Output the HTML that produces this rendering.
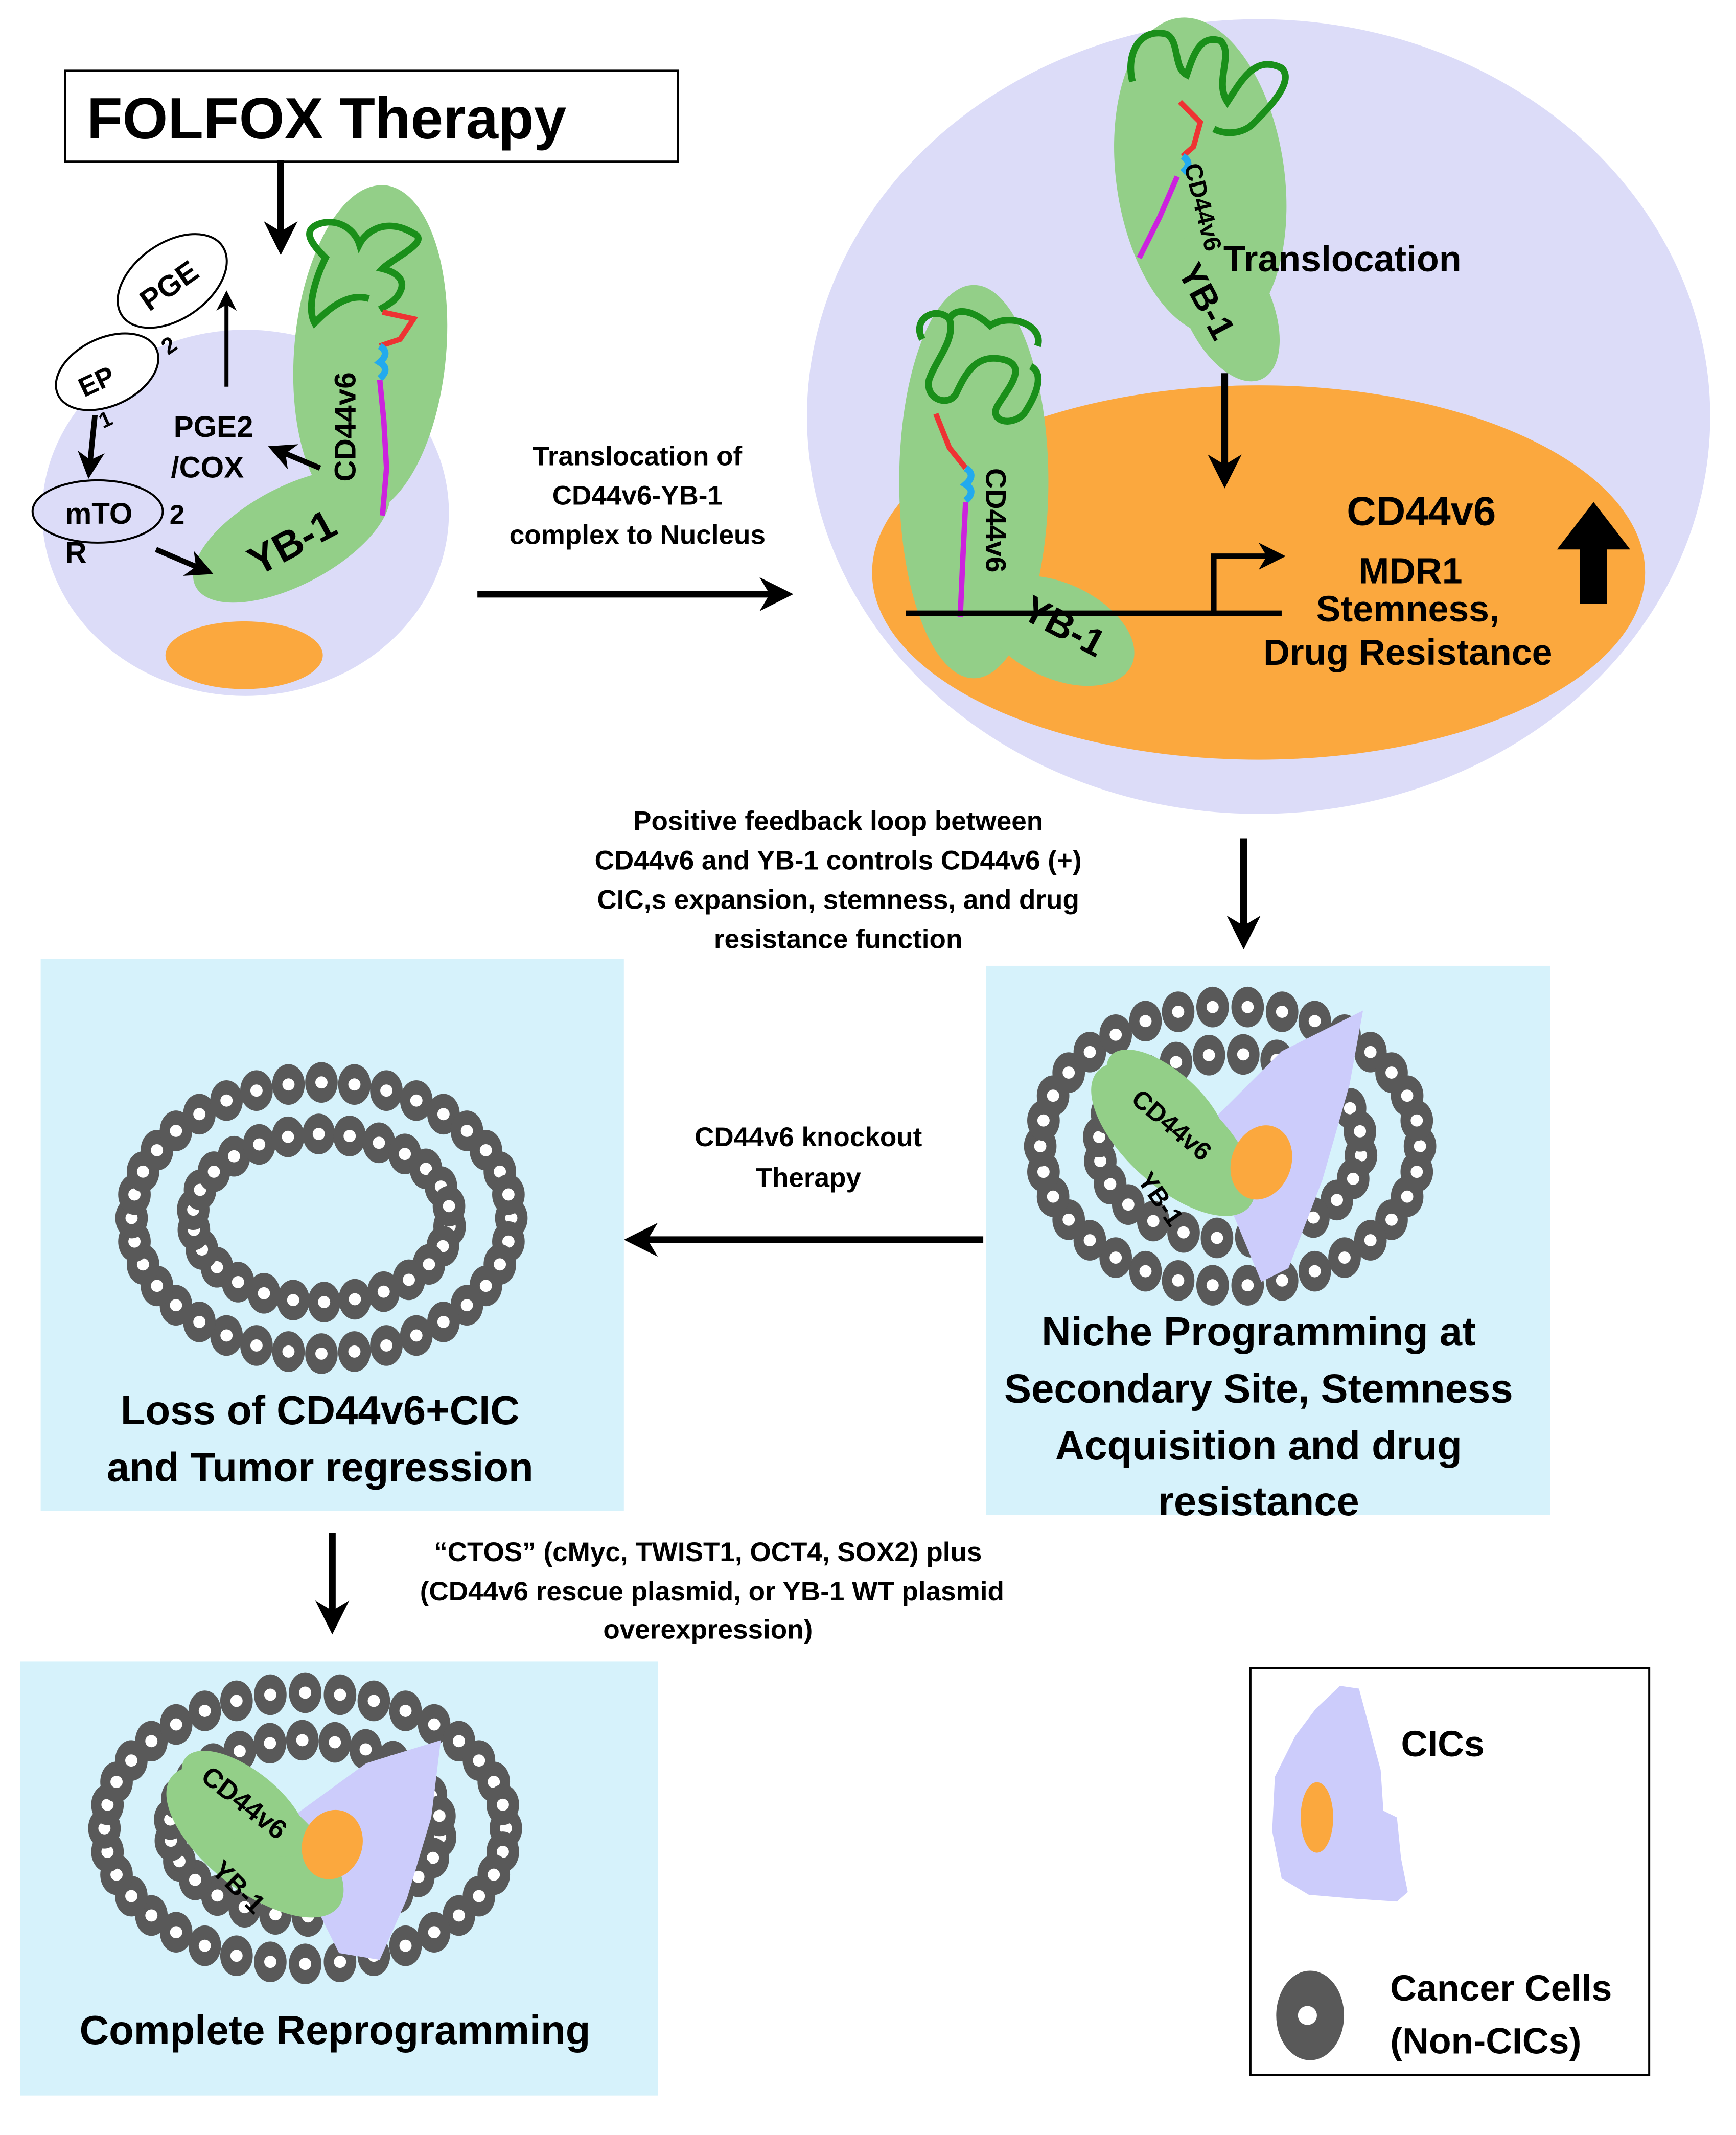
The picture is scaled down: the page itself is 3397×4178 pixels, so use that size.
<!DOCTYPE html>
<html><head><meta charset="utf-8">
<style>
html,body{margin:0;padding:0;background:#fff;}
svg{display:block;}
text{font-family:"Liberation Sans",Arial,sans-serif;font-weight:bold;fill:#000;}
</style></head>
<body>
<svg id="s" width="3397" height="4178" viewBox="0 0 1280 1574" xmlns="http://www.w3.org/2000/svg">
<defs>
<marker id="ah" viewBox="0 0 10 10" refX="6" refY="5" markerWidth="5" markerHeight="5" orient="auto"><path d="M0,0 L10,5 L0,10 L3,5 z" fill="#000"/></marker>
</defs>
<rect width="1280" height="1574" fill="#fff"/>

<!-- FOLFOX -->
<rect x="48" y="52" width="452" height="67" fill="#fff" stroke="#000" stroke-width="1.5"/>
<text x="64" y="102" font-size="43">FOLFOX Therapy</text>
<line x1="207" y1="118" x2="207" y2="178" stroke="#000" stroke-width="5" marker-end="url(#ah)"/>

<!-- left cell -->
<ellipse cx="181" cy="378" rx="150" ry="135" fill="#dcdcf8"/>
<ellipse cx="180" cy="483" rx="58" ry="25" fill="#fba83e"/>
<ellipse cx="273" cy="258" rx="56" ry="122" fill="#93cf88" transform="rotate(5 273 258)"/>
<ellipse cx="215" cy="395" rx="80" ry="36" fill="#93cf88" transform="rotate(-28 215 395)"/>
<path d="M272,220 C255,215 240,230 232,238 C225,225 235,200 240,190 C230,180 222,170 235,165 C250,160 262,170 265,180 C270,170 285,160 305,172 C318,178 290,190 282,198 C290,200 300,205 295,215 C292,222 285,225 280,228" fill="none" stroke="#1a8f1a" stroke-width="5"/>
<path d="M282,230 L305,235 L295,250 L280,255" fill="none" stroke="#e33" stroke-width="4"/>
<path d="M280,255 q8,5 0,12 q8,5 0,12" fill="none" stroke="#22aaee" stroke-width="5"/>
<path d="M280,280 L283,310 L285,345 L282,380" fill="none" stroke="#cc22dd" stroke-width="4"/>
<text transform="translate(262,355) rotate(-90)" font-size="22">CD44v6</text>
<text transform="translate(190,425) rotate(-28)" font-size="30">YB-1</text>
<!-- small ellipses -->
<ellipse cx="127" cy="207" rx="45" ry="28" fill="#fff" stroke="#000" stroke-width="1.5" transform="rotate(-35 127 207)"/>
<text transform="translate(110,230) rotate(-35)" font-size="22">PGE</text>
<text transform="translate(124,262) rotate(-35)" font-size="17">2</text>
<ellipse cx="79" cy="274" rx="40" ry="25" fill="#fff" stroke="#000" stroke-width="1.5" transform="rotate(-25 79 274)"/>
<text transform="translate(62,293) rotate(-25)" font-size="20">EP</text>
<text transform="translate(76,316) rotate(-25)" font-size="16">1</text>
<ellipse cx="72" cy="377" rx="48" ry="23" fill="#dcdcf8" stroke="#000" stroke-width="1.5"/>
<text x="48" y="386" font-size="22">mTO</text>
<text x="125" y="386" font-size="20">2</text>
<text x="48" y="415" font-size="22">R</text>
<line x1="70" y1="306" x2="66" y2="345" stroke="#000" stroke-width="4" marker-end="url(#ah)"/>
<line x1="115" y1="405" x2="150" y2="420" stroke="#000" stroke-width="4" marker-end="url(#ah)"/>
<line x1="167" y1="285" x2="167" y2="220" stroke="#000" stroke-width="3" marker-end="url(#ah)"/>
<line x1="236" y1="345" x2="205" y2="332" stroke="#000" stroke-width="4" marker-end="url(#ah)"/>
<text x="128" y="322" font-size="22">PGE2</text>
<text x="126" y="352" font-size="22">/COX</text>

<!-- middle arrow -->
<text x="470" y="343" font-size="20" text-anchor="middle">Translocation of</text>
<text x="470" y="372" font-size="20" text-anchor="middle">CD44v6-YB-1</text>
<text x="470" y="401" font-size="20" text-anchor="middle">complex to Nucleus</text>
<line x1="352" y1="438" x2="575" y2="438" stroke="#000" stroke-width="5" marker-end="url(#ah)"/>

<!-- right cell -->
<ellipse cx="928" cy="307" rx="333" ry="293" fill="#dcdcf8"/>
<ellipse cx="928" cy="422" rx="285" ry="138" fill="#fba83e"/>
<ellipse cx="885" cy="130" rx="62" ry="118" fill="#93cf88" transform="rotate(-8 885 130)"/>
<ellipse cx="905" cy="225" rx="32" ry="60" fill="#93cf88" transform="rotate(-25 905 225)"/>
<path d="M835,60 C830,40 840,20 860,25 C870,30 865,50 875,55 C880,40 885,25 900,30 C910,40 895,60 905,75 C915,60 925,40 945,50 C955,60 935,80 925,90 C918,98 905,100 895,95" fill="none" stroke="#1a8f1a" stroke-width="5"/>
<path d="M870,75 L885,90 L880,108 L872,115" fill="none" stroke="#e33" stroke-width="4"/>
<path d="M872,115 q8,5 0,12" fill="none" stroke="#22aaee" stroke-width="5"/>
<path d="M868,130 L855,160 L840,190" fill="none" stroke="#cc22dd" stroke-width="4"/>
<text transform="translate(873,122) rotate(76)" font-size="18">CD44v6</text>
<text transform="translate(868,200) rotate(62)" font-size="26">YB-1</text>
<text x="902" y="200" font-size="27">Translocation</text>
<line x1="903" y1="275" x2="903" y2="350" stroke="#000" stroke-width="5" marker-end="url(#ah)"/>

<ellipse cx="718" cy="355" rx="55" ry="145" fill="#93cf88"/>
<ellipse cx="780" cy="465" rx="60" ry="35" fill="#93cf88" transform="rotate(25 780 465)"/>
<path d="M680,250 C672,235 690,225 700,235 C705,250 690,265 685,280 C682,295 700,300 705,290 C712,275 720,260 740,265 C760,270 740,290 735,300 C730,310 745,315 755,305 C765,290 770,275 760,270 M700,235 C705,225 720,230 730,240 C745,230 770,240 765,255" fill="none" stroke="#1a8f1a" stroke-width="5"/>
<path d="M690,305 L700,330 L712,345" fill="none" stroke="#e33" stroke-width="4"/>
<path d="M712,345 q8,5 0,12 q8,5 0,12" fill="none" stroke="#22aaee" stroke-width="5"/>
<path d="M712,370 L710,410 L708,455" fill="none" stroke="#cc22dd" stroke-width="4"/>
<text transform="translate(727,345) rotate(90)" font-size="21">CD44v6</text>
<text transform="translate(752,455) rotate(28)" font-size="28">YB-1</text>
<line x1="668" y1="452" x2="945" y2="452" stroke="#000" stroke-width="4"/>
<path d="M895,452 L895,410 L940,410" fill="none" stroke="#000" stroke-width="4" marker-end="url(#ah)"/>
<text x="1048" y="387" font-size="30" text-anchor="middle">CD44v6</text>
<text x="1040" y="430" font-size="27" text-anchor="middle">MDR1</text>
<text x="1038" y="458" font-size="27" text-anchor="middle">Stemness,</text>
<text x="1038" y="490" font-size="27" text-anchor="middle">Drug Resistance</text>
<rect x="1165" y="400" width="20" height="45" fill="#000"/>
<polygon points="1148,405 1202,405 1175,370" fill="#000"/>

<!-- feedback text -->
<text x="618" y="612" font-size="20" text-anchor="middle">Positive feedback loop between</text>
<text x="618" y="641" font-size="20" text-anchor="middle">CD44v6 and YB-1 controls CD44v6 (+)</text>
<text x="618" y="670" font-size="20" text-anchor="middle">CIC,s expansion,  stemness, and drug</text>
<text x="618" y="699" font-size="20" text-anchor="middle">resistance function</text>
<line x1="917" y1="618" x2="917" y2="690" stroke="#000" stroke-width="5" marker-end="url(#ah)"/>

<!-- panels -->
<rect x="30" y="707" width="430" height="407" fill="#d6f2fb"/>
<rect x="727" y="712" width="416" height="405" fill="#d6f2fb"/>
<rect x="15" y="1225" width="470" height="320" fill="#d6f2fb"/>
<g id="r1"></g><g id="r2"></g><g id="r3"></g>

<!-- panel2 overlay -->
<polygon points="1005,745 995,800 975,870 950,935 930,945 905,885 890,830 945,775" fill="#ccccfb"/>
<ellipse cx="865" cy="840" rx="75" ry="35" fill="#93cf88" transform="rotate(42 865 840)"/>
<ellipse cx="860" cy="815" rx="55" ry="25" fill="#93cf88" transform="rotate(42 860 815)"/>
<ellipse cx="930" cy="857" rx="22" ry="28" fill="#fba83e" transform="rotate(20 930 857)"/>
<text transform="translate(833,812) rotate(40)" font-size="19">CD44v6</text>
<text transform="translate(838,870) rotate(55)" font-size="19">YB-1</text>
<text x="928" y="992" font-size="30" text-anchor="middle">Niche Programming at</text>
<text x="928" y="1034" font-size="30" text-anchor="middle">Secondary Site, Stemness</text>
<text x="928" y="1076" font-size="30" text-anchor="middle">Acquisition and drug</text>
<text x="928" y="1117" font-size="30" text-anchor="middle">resistance</text>

<text x="236" y="1050" font-size="30" text-anchor="middle">Loss of CD44v6+CIC</text>
<text x="236" y="1092" font-size="30" text-anchor="middle">and Tumor regression</text>

<text x="596" y="845" font-size="20" text-anchor="middle">CD44v6 knockout</text>
<text x="596" y="875" font-size="20" text-anchor="middle">Therapy</text>
<line x1="725" y1="914" x2="470" y2="914" stroke="#000" stroke-width="5" marker-end="url(#ah)"/>

<line x1="245" y1="1130" x2="245" y2="1195" stroke="#000" stroke-width="5" marker-end="url(#ah)"/>
<text x="522" y="1151" font-size="20" text-anchor="middle">“CTOS” (cMyc, TWIST1, OCT4, SOX2)  plus</text>
<text x="525" y="1180" font-size="20" text-anchor="middle">(CD44v6 rescue plasmid, or YB-1 WT plasmid</text>
<text x="522" y="1208" font-size="20" text-anchor="middle">overexpression)</text>

<!-- panel3 overlay -->
<polygon points="325,1283 318,1340 300,1400 280,1445 250,1440 225,1390 215,1340 270,1300" fill="#ccccfb"/>
<ellipse cx="188" cy="1358" rx="78" ry="36" fill="#93cf88" transform="rotate(38 188 1358)"/>
<ellipse cx="180" cy="1330" rx="55" ry="25" fill="#93cf88" transform="rotate(38 180 1330)"/>
<ellipse cx="245" cy="1360" rx="22" ry="26" fill="#fba83e" transform="rotate(20 245 1360)"/>
<text transform="translate(147,1312) rotate(38)" font-size="20">CD44v6</text>
<text transform="translate(155,1380) rotate(45)" font-size="20">YB-1</text>
<text x="247" y="1507" font-size="30" text-anchor="middle">Complete Reprogramming</text>

<!-- legend -->
<rect x="922" y="1230" width="294" height="300" fill="#fff" stroke="#000" stroke-width="1.5"/>
<path d="M988,1243 L1002,1245 L1010,1275 L1018,1305 L1020,1335 L1030,1340 L1033,1370 L1038,1395 L1030,1402 L1000,1400 L965,1397 L945,1385 L938,1350 L940,1310 L955,1280 L970,1260 Z" fill="#ccccfb"/>
<ellipse cx="971" cy="1340" rx="12" ry="26" fill="#fba83e"/>
<text x="1033" y="1295" font-size="27">CICs</text>
<ellipse cx="966" cy="1486" rx="25" ry="33" fill="#595959"/>
<circle cx="964" cy="1486" r="7" fill="#fff"/>
<text x="1025" y="1475" font-size="27">Cancer Cells</text>
<text x="1025" y="1514" font-size="27">(Non-CICs)</text>
</svg>
<script>
(function(){
var NS="http://www.w3.org/2000/svg";
function ring(id,cx,cy,rx,ry,n,rot){
 var g=document.getElementById(id);
 for(var i=0;i<n;i++){
  var a=(i/n)*Math.PI*2+(rot||0);
  var x=cx+rx*Math.cos(a), y=cy+ry*Math.sin(a);
  var e=document.createElementNS(NS,"ellipse");
  e.setAttribute("cx",x);e.setAttribute("cy",y);e.setAttribute("rx",12);e.setAttribute("ry",15);
  e.setAttribute("fill","#595959");g.appendChild(e);
  var c=document.createElementNS(NS,"circle");
  c.setAttribute("cx",x);c.setAttribute("cy",y);c.setAttribute("r",4.5);c.setAttribute("fill","#fff");g.appendChild(c);
 }
}
ring("r1",237,898,140,100,36,0);ring("r1",237,898,95,62,26,0.1);
ring("r2",907,845,140,103,34,0);ring("r2",907,845,97,68,24,0.1);
ring("r3",225,1348,148,100,36,0);ring("r3",225,1348,100,65,26,0.1);
})();
</script>
</body></html>
